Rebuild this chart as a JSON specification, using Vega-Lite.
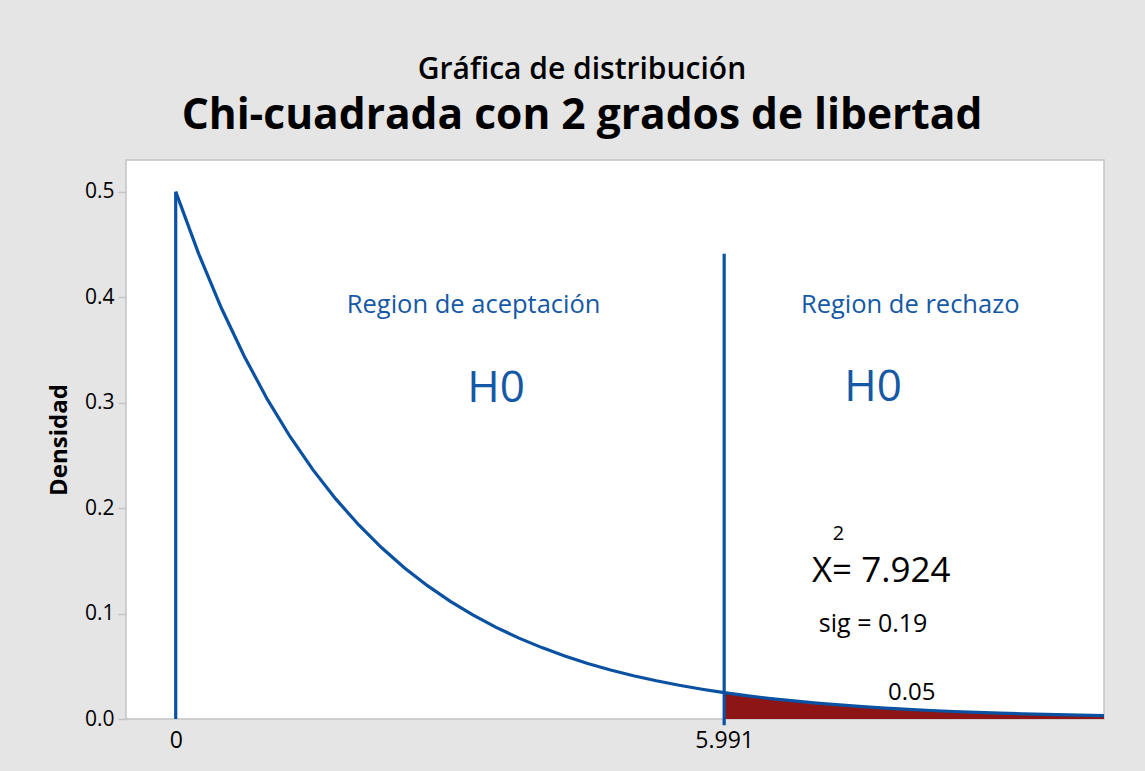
{
  "$schema": "https://vega.github.io/schema/vega-lite/v6.json",
  "width": 978,
  "height": 559,
  "autosize": {"type": "none"},
  "padding": {"left": 126, "top": 160, "right": 41, "bottom": 52},
  "background": "#e5e5e5",
  "config": {
    "font": "Open Sans",
    "view": {"fill": "white", "stroke": "#c4c4c4", "strokeWidth": 1.5},
    "axis": {"grid": false, "domainColor": "#c4c4c4", "domainWidth": 1.5, "tickColor": "#c4c4c4", "labelColor": "black", "titleColor": "black"}
  },
  "title": {
    "text": "Gráfica de distribución",
    "subtitle": "Chi-cuadrada con 2 grados de libertad",
    "anchor": "middle",
    "dx": -33,
    "fontSize": 30,
    "fontWeight": 600,
    "color": "black",
    "subtitleFontSize": 42.5,
    "subtitleFontWeight": "bold",
    "subtitleColor": "black",
    "subtitleFont": "Open Sans",
    "subtitlePadding": 10,
    "offset": 23
  },
  "datasets": {
    "curve": [
      {"x": 0, "density": 0.5, "tail": false},
      {"x": 0.25, "density": 0.44125, "tail": false},
      {"x": 0.5, "density": 0.3894, "tail": false},
      {"x": 0.75, "density": 0.34365, "tail": false},
      {"x": 1, "density": 0.30327, "tail": false},
      {"x": 1.25, "density": 0.26763, "tail": false},
      {"x": 1.5, "density": 0.23618, "tail": false},
      {"x": 1.75, "density": 0.20843, "tail": false},
      {"x": 2, "density": 0.18394, "tail": false},
      {"x": 2.25, "density": 0.16233, "tail": false},
      {"x": 2.5, "density": 0.14325, "tail": false},
      {"x": 2.75, "density": 0.12642, "tail": false},
      {"x": 3, "density": 0.11157, "tail": false},
      {"x": 3.25, "density": 0.09846, "tail": false},
      {"x": 3.5, "density": 0.08689, "tail": false},
      {"x": 3.75, "density": 0.07668, "tail": false},
      {"x": 4, "density": 0.06767, "tail": false},
      {"x": 4.25, "density": 0.05972, "tail": false},
      {"x": 4.5, "density": 0.0527, "tail": false},
      {"x": 4.75, "density": 0.04651, "tail": false},
      {"x": 5, "density": 0.04104, "tail": false},
      {"x": 5.25, "density": 0.03622, "tail": false},
      {"x": 5.5, "density": 0.03196, "tail": false},
      {"x": 5.75, "density": 0.02821, "tail": false},
      {"x": 5.991, "density": 0.025, "tail": true},
      {"x": 6.25, "density": 0.02197, "tail": true},
      {"x": 6.5, "density": 0.01939, "tail": true},
      {"x": 6.75, "density": 0.01711, "tail": true},
      {"x": 7, "density": 0.0151, "tail": true},
      {"x": 7.25, "density": 0.01332, "tail": true},
      {"x": 7.5, "density": 0.01176, "tail": true},
      {"x": 7.75, "density": 0.01038, "tail": true},
      {"x": 8, "density": 0.00916, "tail": true},
      {"x": 8.25, "density": 0.00808, "tail": true},
      {"x": 8.5, "density": 0.00713, "tail": true},
      {"x": 8.75, "density": 0.00629, "tail": true},
      {"x": 9, "density": 0.00555, "tail": true},
      {"x": 9.25, "density": 0.0049, "tail": true},
      {"x": 9.5, "density": 0.00433, "tail": true},
      {"x": 9.75, "density": 0.00382, "tail": true},
      {"x": 10, "density": 0.00337, "tail": true},
      {"x": 10.14, "density": 0.00314, "tail": true}
    ]
  },
  "layer": [
    {
      "data": {"name": "curve"},
      "transform": [{"filter": "datum.tail"}],
      "mark": {"type": "area", "color": "#8e1515", "interpolate": "linear"},
      "encoding": {
        "x": {
          "field": "x", "type": "quantitative",
          "scale": {"domain": [-0.543, 10.14], "nice": false, "zero": false},
          "axis": {"values": [0, 5.991], "labelExpr": "datum.value == 0 ? '0' : '5.991'", "title": null, "ticks": false, "labelFontSize": 23, "labelPadding": 10, "domain": false}
        },
        "y": {
          "field": "density", "type": "quantitative",
          "scale": {"domain": [0, 0.53], "nice": false},
          "axis": {"values": [0, 0.1, 0.2, 0.3, 0.4, 0.5], "format": ".1f", "title": "Densidad", "titleFontSize": 24, "titleFontWeight": "bold", "titlePadding": 13, "labelFontSize": 21, "labelPadding": 4, "tickSize": 8, "tickWidth": 1.5, "domain": false}
        }
      }
    },
    {
      "data": {"name": "curve"},
      "mark": {"type": "line", "color": "#0a52a1", "strokeWidth": 3.2},
      "encoding": {
        "x": {"field": "x", "type": "quantitative"},
        "y": {"field": "density", "type": "quantitative"}
      }
    },
    {
      "data": {"values": [{"x": 0, "y0": 0, "y1": 0.5}, {"x": 5.991, "y0": -0.006, "y1": 0.441}]},
      "mark": {"type": "rule", "color": "#0a52a1", "strokeWidth": 3.2, "clip": false},
      "encoding": {
        "x": {"field": "x", "type": "quantitative"},
        "y": {"field": "y0", "type": "quantitative"},
        "y2": {"field": "y1"}
      }
    },
    {
      "data": {"values": [{"x": 3.254, "y": 0.385, "label": "Region de aceptación"}, {"x": 8.023, "y": 0.385, "label": "Region de rechazo"}]},
      "mark": {"type": "text", "color": "#1558a5", "fontSize": 25.5, "align": "center", "baseline": "alphabetic"},
      "encoding": {
        "x": {"field": "x", "type": "quantitative"},
        "y": {"field": "y", "type": "quantitative"},
        "text": {"field": "label"}
      }
    },
    {
      "data": {"values": [{"x": 3.5, "y": 0.3008, "label": "H0"}, {"x": 7.618, "y": 0.3017, "label": "H0"}]},
      "mark": {"type": "text", "color": "#1558a5", "fontSize": 44, "align": "center", "baseline": "alphabetic"},
      "encoding": {
        "x": {"field": "x", "type": "quantitative"},
        "y": {"field": "y", "type": "quantitative"},
        "text": {"field": "label"}
      }
    },
    {
      "data": {"values": [{"x": 7.24, "y": 0.17, "label": "2"}]},
      "mark": {"type": "text", "color": "black", "fontSize": 20, "align": "center", "baseline": "alphabetic"},
      "encoding": {
        "x": {"field": "x", "type": "quantitative"},
        "y": {"field": "y", "type": "quantitative"},
        "text": {"field": "label"}
      }
    },
    {
      "data": {"values": [{"x": 7.706, "y": 0.13, "label": "X= 7.924"}]},
      "mark": {"type": "text", "color": "black", "fontSize": 35, "align": "center", "baseline": "alphabetic"},
      "encoding": {
        "x": {"field": "x", "type": "quantitative"},
        "y": {"field": "y", "type": "quantitative"},
        "text": {"field": "label"}
      }
    },
    {
      "data": {"values": [{"x": 7.618, "y": 0.0827, "label": "sig = 0.19"}]},
      "mark": {"type": "text", "color": "black", "fontSize": 25, "align": "center", "baseline": "alphabetic"},
      "encoding": {
        "x": {"field": "x", "type": "quantitative"},
        "y": {"field": "y", "type": "quantitative"},
        "text": {"field": "label"}
      }
    },
    {
      "data": {"values": [{"x": 8.04, "y": 0.0183, "label": "0.05"}]},
      "mark": {"type": "text", "color": "black", "fontSize": 24, "align": "center", "baseline": "alphabetic"},
      "encoding": {
        "x": {"field": "x", "type": "quantitative"},
        "y": {"field": "y", "type": "quantitative"},
        "text": {"field": "label"}
      }
    }
  ]
}
